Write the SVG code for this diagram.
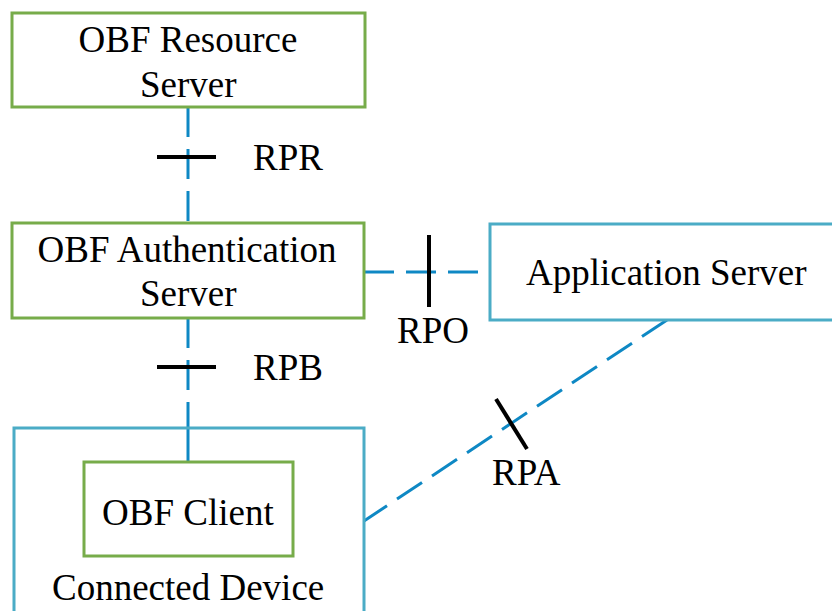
<svg xmlns="http://www.w3.org/2000/svg" width="832" height="611" viewBox="0 0 832 611">
<rect width="832" height="611" fill="#fff"/>
<g id="connectors">
<g stroke="#0E88C4" stroke-width="3" fill="none" stroke-dasharray="30 12">
<line x1="188" y1="107" x2="188" y2="223"/>
<line x1="188" y1="318" x2="188" y2="428"/>
<line x1="364" y1="272" x2="490" y2="272"/>
<line x1="667" y1="320" x2="364" y2="521"/>
</g>
<line stroke="#0E88C4" stroke-width="3" x1="188" y1="428" x2="188" y2="462"/>
<g stroke="#000" stroke-width="4" fill="none">
<line x1="157" y1="157" x2="216" y2="157"/>
<line x1="157" y1="367" x2="216" y2="367"/>
<line x1="429" y1="235" x2="429" y2="307"/>
<line x1="496" y1="399" x2="527" y2="449"/>
</g>
<text font-family="Times New Roman, serif" font-size="37" x="253" y="170">RPR</text>
<text font-family="Times New Roman, serif" font-size="37" x="253" y="380">RPB</text>
<text font-family="Times New Roman, serif" font-size="37" x="397" y="343">RPO</text>
<text font-family="Times New Roman, serif" font-size="37" x="492" y="485">RPA</text>
</g>
<g id="resource-server">
<rect fill="#fff" stroke="#77AC4A" stroke-width="3" x="12" y="13" width="353" height="94"/>
<text font-family="Times New Roman, serif" font-size="37" x="78.5" y="52">OBF Resource</text>
<text font-family="Times New Roman, serif" font-size="37" x="140" y="97">Server</text>
</g>
<g id="auth-server">
<rect fill="#fff" stroke="#77AC4A" stroke-width="3" x="12" y="223" width="352" height="95"/>
<text font-family="Times New Roman, serif" font-size="37" x="37.5" y="262">OBF Authentication</text>
<text font-family="Times New Roman, serif" font-size="37" x="140" y="306">Server</text>
</g>
<g id="application-server">
<rect fill="#fff" stroke="#4BACC6" stroke-width="3" x="490" y="224" width="350" height="96"/>
<text font-family="Times New Roman, serif" font-size="37" x="526" y="285">Application Server</text>
</g>
<g id="connected-device">
<rect fill="none" stroke="#4BACC6" stroke-width="3" x="14" y="428" width="350" height="200"/>
<text font-family="Times New Roman, serif" font-size="37" x="52" y="600">Connected Device</text>
</g>
<g id="obf-client">
<rect fill="#fff" stroke="#77AC4A" stroke-width="3" x="84" y="462" width="209" height="94"/>
<text font-family="Times New Roman, serif" font-size="37" x="102" y="525">OBF Client</text>
</g>
</svg>
